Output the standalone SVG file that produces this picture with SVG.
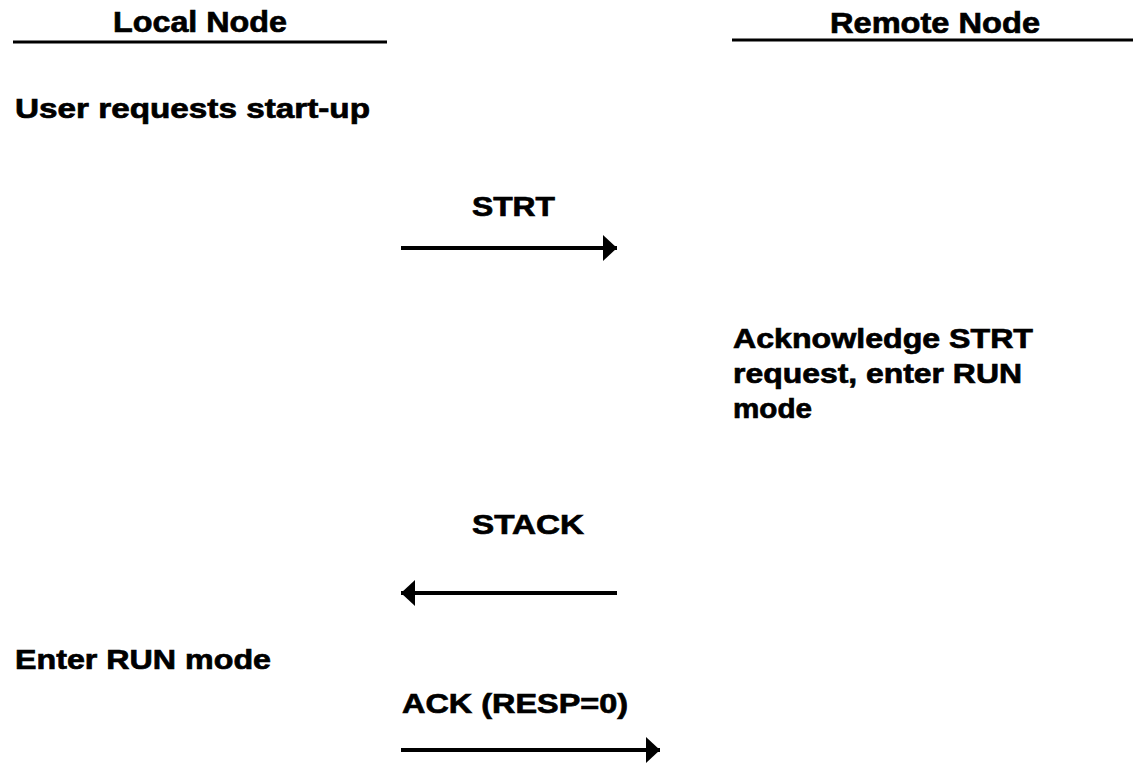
<svg xmlns="http://www.w3.org/2000/svg" width="1133" height="765" viewBox="0 0 1133 765">
  <style>
    .h { font-family: "Liberation Sans", Arial, sans-serif; font-weight: bold; font-size: 30px; fill: #000; stroke: #000; stroke-width: 0.7px; }
    .t { font-family: "Liberation Sans", Arial, sans-serif; font-weight: bold; font-size: 28px; fill: #000; stroke: #000; stroke-width: 0.7px; }
    .rule { stroke: #000; stroke-width: 3; }
    .msg { stroke: #000; stroke-width: 4; fill: none; marker-end: url(#arrow); }
  </style>
  <defs>
    <marker id="arrow" markerUnits="userSpaceOnUse" markerWidth="14" markerHeight="26" refX="14" refY="13" orient="auto">
      <path d="M0,0 L14,13 L0,26 Z" fill="#000"/>
    </marker>
  </defs>
  <rect width="1133" height="765" fill="#fff"/>

  <g id="local-node">
    <text class="h" x="113" y="32" textLength="174" lengthAdjust="spacingAndGlyphs">Local Node</text>
    <line class="rule" x1="13" y1="42" x2="387" y2="42"/>
  </g>
  <g id="remote-node">
    <text class="h" x="830" y="33" textLength="210" lengthAdjust="spacingAndGlyphs">Remote Node</text>
    <line class="rule" x1="732" y1="40" x2="1133" y2="40"/>
  </g>

  <g id="user-start">
    <text class="t" x="15" y="118" textLength="355" lengthAdjust="spacingAndGlyphs">User requests start-up</text>
  </g>
  <g id="remote-ack">
    <text class="t" x="733" y="348" textLength="300" lengthAdjust="spacingAndGlyphs">Acknowledge STRT</text>
    <text class="t" x="733" y="383" textLength="289" lengthAdjust="spacingAndGlyphs">request, enter RUN</text>
    <text class="t" x="733" y="418" textLength="79" lengthAdjust="spacingAndGlyphs">mode</text>
  </g>
  <g id="local-run">
    <text class="t" x="15" y="669" textLength="256" lengthAdjust="spacingAndGlyphs">Enter RUN mode</text>
  </g>

  <g id="connectors">
    <g id="msg-strt">
      <text class="t" x="472" y="216" textLength="83" lengthAdjust="spacingAndGlyphs">STRT</text>
      <line class="msg" x1="401" y1="248" x2="617" y2="248"/>
    </g>
    <g id="msg-stack">
      <text class="t" x="472" y="534" textLength="112" lengthAdjust="spacingAndGlyphs">STACK</text>
      <line class="msg" x1="617" y1="593" x2="401" y2="593"/>
    </g>
    <g id="msg-ack">
      <text class="t" x="402" y="713" textLength="226" lengthAdjust="spacingAndGlyphs">ACK (RESP=0)</text>
      <line class="msg" x1="401" y1="750" x2="660" y2="750"/>
    </g>
  </g>
</svg>
